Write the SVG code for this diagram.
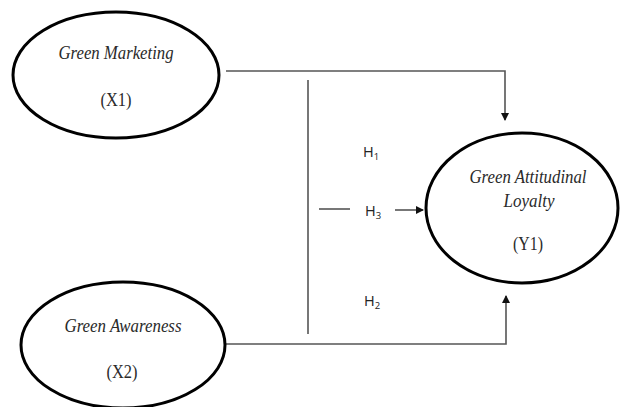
<svg xmlns="http://www.w3.org/2000/svg" width="622" height="407" viewBox="0 0 622 407">
<defs>
<marker id="ah" markerWidth="8" markerHeight="8" refX="7" refY="4" orient="auto" markerUnits="userSpaceOnUse">
<path d="M0,0 L8,4 L0,8 Z" fill="#111"/>
</marker>
<style>
.node ellipse{fill:#fff;stroke:#000;stroke-width:3}
.lbl{font-family:"Liberation Serif","Times New Roman",serif;font-style:italic;font-size:18px;fill:#2a2a2a;text-anchor:middle}
.code{font-family:"Liberation Serif","Times New Roman",serif;font-size:18px;fill:#2a2a2a;text-anchor:middle}
.conn{fill:none;stroke:#555;stroke-width:1.6}
.h{font-family:"Open Sans","Liberation Sans",sans-serif;font-size:14.5px;fill:#222}
</style>
</defs>
<rect width="622" height="407" fill="#fff"/>
<g id="connectors">
<path class="conn" d="M226,71 H505 V120" marker-end="url(#ah)"/>
<path class="conn" d="M226,344 H506 V296" marker-end="url(#ah)"/>
<path class="conn" d="M308,80 V334"/>
<path class="conn" d="M319,209 H350"/>
<path class="conn" d="M395,210 H423" stroke="#111" marker-end="url(#ah)"/>
</g>
<g id="labels">
<text class="h" x="363" y="157">H<tspan font-size="9.5" dy="3">1</tspan></text>
<text class="h" x="365" y="216">H<tspan font-size="9.5" dy="3">3</tspan></text>
<text class="h" x="364" y="306">H<tspan font-size="9.5" dy="3">2</tspan></text>
</g>
<g id="x1" class="node">
<ellipse cx="116" cy="75" rx="103" ry="63"/>
<text class="lbl" x="116" y="59" textLength="115" lengthAdjust="spacingAndGlyphs">Green Marketing</text>
<text class="code" x="116" y="106" textLength="31" lengthAdjust="spacingAndGlyphs">(X1)</text>
</g>
<g id="x2" class="node">
<ellipse cx="123" cy="345" rx="102" ry="63"/>
<text class="lbl" x="123" y="332" textLength="117" lengthAdjust="spacingAndGlyphs">Green Awareness</text>
<text class="code" x="122" y="378" textLength="31" lengthAdjust="spacingAndGlyphs">(X2)</text>
</g>
<g id="y1" class="node">
<ellipse cx="522" cy="208" rx="96" ry="75"/>
<text class="lbl" x="528" y="183" textLength="117" lengthAdjust="spacingAndGlyphs">Green Attitudinal</text>
<text class="lbl" x="529" y="207" textLength="51" lengthAdjust="spacingAndGlyphs">Loyalty</text>
<text class="code" x="528" y="250" textLength="30" lengthAdjust="spacingAndGlyphs">(Y1)</text>
</g>
</svg>
